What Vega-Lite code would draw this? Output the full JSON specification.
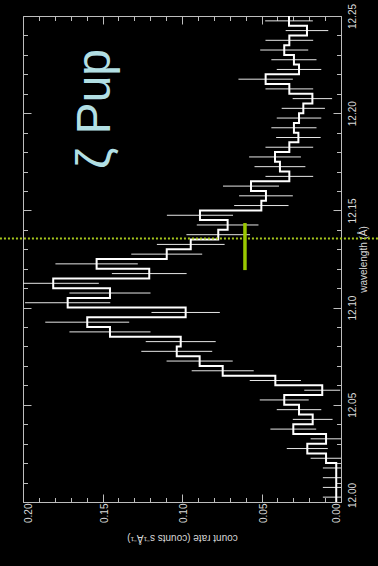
{
  "$schema": "https://vega.github.io/schema/vega-lite/v6.json",
  "width": 318,
  "height": 486,
  "autosize": {"type": "none"},
  "padding": {"left": 23, "top": 16, "right": 37, "bottom": 64},
  "background": "#000000",
  "config": {
    "view": {"stroke": "#bdbdbd", "strokeWidth": 1},
    "axis": {
      "grid": false,
      "domain": false,
      "tickColor": "#bdbdbd",
      "tickWidth": 1,
      "labelColor": "#d8d8d8",
      "titleColor": "#d8d8d8",
      "labelFont": "Liberation Sans",
      "titleFont": "Liberation Sans",
      "labelFontSize": 10,
      "titleFontSize": 10,
      "titleFontWeight": "normal"
    }
  },
  "datasets": {
    "spec": [
      {"lo": 12.000, "wl": 12.0025, "rate": 0.0030, "err": 0.0084},
      {"lo": 12.005, "wl": 12.0075, "rate": 0.0030, "err": 0.0084},
      {"lo": 12.010, "wl": 12.0125, "rate": 0.0030, "err": 0.0084},
      {"lo": 12.015, "wl": 12.0175, "rate": 0.0030, "err": 0.0084},
      {"lo": 12.020, "wl": 12.0225, "rate": 0.0094, "err": 0.0097},
      {"lo": 12.025, "wl": 12.0275, "rate": 0.0212, "err": 0.0129},
      {"lo": 12.030, "wl": 12.0325, "rate": 0.0094, "err": 0.0097},
      {"lo": 12.035, "wl": 12.0375, "rate": 0.0300, "err": 0.0144},
      {"lo": 12.040, "wl": 12.0425, "rate": 0.0178, "err": 0.0125},
      {"lo": 12.045, "wl": 12.0475, "rate": 0.0264, "err": 0.0140},
      {"lo": 12.050, "wl": 12.0525, "rate": 0.0357, "err": 0.0154},
      {"lo": 12.055, "wl": 12.0575, "rate": 0.0118, "err": 0.0113},
      {"lo": 12.060, "wl": 12.0625, "rate": 0.0413, "err": 0.0161},
      {"lo": 12.065, "wl": 12.0675, "rate": 0.0744, "err": 0.0195},
      {"lo": 12.070, "wl": 12.0725, "rate": 0.0889, "err": 0.0208},
      {"lo": 12.075, "wl": 12.0775, "rate": 0.1033, "err": 0.0223},
      {"lo": 12.080, "wl": 12.0825, "rate": 0.1008, "err": 0.0220},
      {"lo": 12.085, "wl": 12.0875, "rate": 0.1453, "err": 0.0255},
      {"lo": 12.090, "wl": 12.0925, "rate": 0.1596, "err": 0.0264},
      {"lo": 12.095, "wl": 12.0975, "rate": 0.0977, "err": 0.0215},
      {"lo": 12.100, "wl": 12.1025, "rate": 0.1719, "err": 0.0268},
      {"lo": 12.105, "wl": 12.1075, "rate": 0.1453, "err": 0.0255},
      {"lo": 12.110, "wl": 12.1125, "rate": 0.1810, "err": 0.0287},
      {"lo": 12.115, "wl": 12.1175, "rate": 0.1206, "err": 0.0235},
      {"lo": 12.120, "wl": 12.1225, "rate": 0.1537, "err": 0.0259},
      {"lo": 12.125, "wl": 12.1275, "rate": 0.1096, "err": 0.0223},
      {"lo": 12.130, "wl": 12.1325, "rate": 0.0945, "err": 0.0213},
      {"lo": 12.135, "wl": 12.1375, "rate": 0.0772, "err": 0.0200},
      {"lo": 12.140, "wl": 12.1425, "rate": 0.0713, "err": 0.0194},
      {"lo": 12.145, "wl": 12.1475, "rate": 0.0887, "err": 0.0208},
      {"lo": 12.150, "wl": 12.1525, "rate": 0.0501, "err": 0.0171},
      {"lo": 12.155, "wl": 12.1575, "rate": 0.0472, "err": 0.0169},
      {"lo": 12.160, "wl": 12.1625, "rate": 0.0566, "err": 0.0176},
      {"lo": 12.165, "wl": 12.1675, "rate": 0.0325, "err": 0.0150},
      {"lo": 12.170, "wl": 12.1725, "rate": 0.0384, "err": 0.0160},
      {"lo": 12.175, "wl": 12.1775, "rate": 0.0415, "err": 0.0163},
      {"lo": 12.180, "wl": 12.1825, "rate": 0.0325, "err": 0.0150},
      {"lo": 12.185, "wl": 12.1875, "rate": 0.0268, "err": 0.0140},
      {"lo": 12.190, "wl": 12.1925, "rate": 0.0296, "err": 0.0142},
      {"lo": 12.195, "wl": 12.1975, "rate": 0.0264, "err": 0.0140},
      {"lo": 12.200, "wl": 12.2025, "rate": 0.0237, "err": 0.0136},
      {"lo": 12.205, "wl": 12.2075, "rate": 0.0180, "err": 0.0124},
      {"lo": 12.210, "wl": 12.2125, "rate": 0.0325, "err": 0.0150},
      {"lo": 12.215, "wl": 12.2175, "rate": 0.0474, "err": 0.0171},
      {"lo": 12.220, "wl": 12.2225, "rate": 0.0264, "err": 0.0140},
      {"lo": 12.225, "wl": 12.2275, "rate": 0.0296, "err": 0.0142},
      {"lo": 12.230, "wl": 12.2325, "rate": 0.0357, "err": 0.0151},
      {"lo": 12.235, "wl": 12.2375, "rate": 0.0325, "err": 0.0150},
      {"lo": 12.240, "wl": 12.2425, "rate": 0.0214, "err": 0.0134},
      {"lo": 12.245, "wl": 12.2475, "rate": 0.0327, "err": 0.0150},
      {"lo": 12.250, "rate": 0.0327}
    ]
  },
  "layer": [
    {
      "data": {"name": "spec"},
      "transform": [{"filter": "isValid(datum.err)"}],
      "mark": {"type": "errorbar", "color": "#e6e6e6", "thickness": 1, "clip": true},
      "encoding": {
        "x": {
          "field": "rate", "type": "quantitative",
          "scale": {"domain": [0, 0.2], "reverse": true, "nice": false, "zero": false},
          "axis": {
            "orient": "top", "labels": false, "title": null,
            "values": [0,0.01,0.02,0.03,0.04,0.05,0.06,0.07,0.08,0.09,0.1,0.11,0.12,0.13,0.14,0.15,0.16,0.17,0.18,0.19,0.2],
            "tickSize": {"condition": {"test": "round(datum.value*100)%5==0", "value": -8}, "value": -4.5}
          }
        },
        "xError": {"field": "err"},
        "y": {
          "field": "wl", "type": "quantitative",
          "scale": {"domain": [12.0, 12.25], "nice": false, "zero": false},
          "axis": {
            "orient": "left", "labels": false, "title": null,
            "values": [12.0,12.01,12.02,12.03,12.04,12.05,12.06,12.07,12.08,12.09,12.1,12.11,12.12,12.13,12.14,12.15,12.16,12.17,12.18,12.19,12.2,12.21,12.22,12.23,12.24,12.25],
            "tickSize": {"condition": {"test": "round(datum.value*100)%5==0", "value": -8}, "value": -4.5}
          }
        }
      }
    },
    {
      "data": {"name": "spec"},
      "mark": {"type": "line", "interpolate": "step-before", "color": "#ffffff", "strokeWidth": 2},
      "encoding": {
        "x": {
          "field": "rate", "type": "quantitative",
          "scale": {"domain": [0, 0.2], "reverse": true, "nice": false, "zero": false},
          "axis": {
            "orient": "bottom",
            "values": [0,0.01,0.02,0.03,0.04,0.05,0.06,0.07,0.08,0.09,0.1,0.11,0.12,0.13,0.14,0.15,0.16,0.17,0.18,0.19,0.2],
            "format": ".2f",
            "labelExpr": "round(datum.value*100)%5==0 ? datum.label : ''",
            "labelAngle": 270,
            "labelPadding": 9,
            "labelOffset": {"condition": [{"test": "datum.value > 0.195", "value": 5.5}, {"test": "datum.value < 0.005", "value": -4.5}], "value": 1.5},
            "tickSize": {"condition": {"test": "round(datum.value*100)%5==0", "value": -8}, "value": -4.5},
            "title": "count rate (counts s⁻¹Å⁻¹)",
            "titleAngle": 180,
            "titlePadding": 20
          }
        },
        "y": {
          "field": "lo", "type": "quantitative",
          "scale": {"domain": [12.0, 12.25], "nice": false, "zero": false},
          "axis": {
            "orient": "right",
            "values": [12.0,12.01,12.02,12.03,12.04,12.05,12.06,12.07,12.08,12.09,12.1,12.11,12.12,12.13,12.14,12.15,12.16,12.17,12.18,12.19,12.2,12.21,12.22,12.23,12.24,12.25],
            "format": ".2f",
            "labelExpr": "round(datum.value*100)%5==0 ? datum.label : ''",
            "labelAngle": 270,
            "labelPadding": 14,
            "labelOffset": {"condition": {"test": "datum.value < 12.005", "value": -7}, "value": 0},
            "tickSize": {"condition": {"test": "round(datum.value*100)%5==0", "value": -8}, "value": -4.5},
            "title": "wavelength (Å)",
            "titleAngle": 270,
            "titlePadding": 11
          }
        },
        "order": {"field": "lo", "type": "quantitative"}
      }
    },
    {
      "data": {"values": [{"line": "observed", "wl": 12.1355, "from": 0.2145, "to": -0.0235}]},
      "mark": {"type": "rule", "color": "#a8c81c", "strokeWidth": 2, "strokeDash": [2, 2], "clip": false},
      "encoding": {
        "y": {"field": "wl", "type": "quantitative", "scale": {"domain": [12.0, 12.25], "nice": false, "zero": false}, "axis": null},
        "x": {"field": "from", "type": "quantitative", "scale": {"domain": [0, 0.2], "reverse": true, "nice": false, "zero": false}, "axis": null},
        "x2": {"field": "to"}
      }
    },
    {
      "data": {"values": [{"line": "rest", "rate": 0.0604, "wl1": 12.1193, "wl2": 12.1435}]},
      "mark": {"type": "rule", "color": "#99c800", "strokeWidth": 3.5},
      "encoding": {
        "x": {"field": "rate", "type": "quantitative", "scale": {"domain": [0, 0.2], "reverse": true, "nice": false, "zero": false}, "axis": null},
        "y": {"field": "wl1", "type": "quantitative", "scale": {"domain": [12.0, 12.25], "nice": false, "zero": false}, "axis": null},
        "y2": {"field": "wl2"}
      }
    },
    {
      "data": {"values": [{"label": "ζ Pup", "rate": 0.1453, "wl": 12.2022}]},
      "mark": {"type": "text", "angle": 270, "align": "center", "baseline": "alphabetic", "font": "Liberation Sans", "fontSize": 48, "color": "#b2dfe4"},
      "encoding": {
        "x": {"field": "rate", "type": "quantitative", "scale": {"domain": [0, 0.2], "reverse": true, "nice": false, "zero": false}, "axis": null},
        "y": {"field": "wl", "type": "quantitative", "scale": {"domain": [12.0, 12.25], "nice": false, "zero": false}, "axis": null},
        "text": {"field": "label"}
      }
    }
  ],
  "resolve": {"axis": {"x": "independent", "y": "independent"}}
}
